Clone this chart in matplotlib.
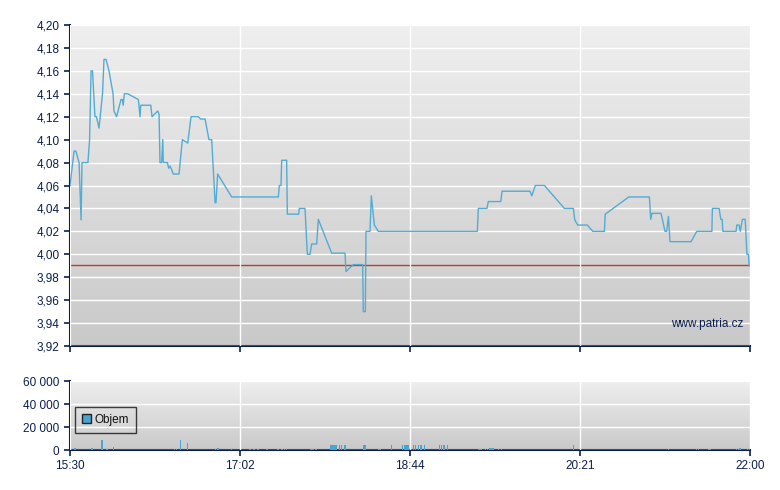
import numpy as np
import matplotlib
matplotlib.use("Agg")
import matplotlib.pyplot as plt
from matplotlib.patches import Patch

plt.rcParams['font.family'] = ['Liberation Sans', 'DejaVu Sans']

# x axis labels (the axis is evenly spaced between these labels)
tick_labels = ["15:30", "17:02", "18:44", "20:21", "22:00"]
tick_minutes = [0, 92, 194, 291, 390]   # minutes after 15:30

# price line: minutes after 15:30, price
price_min = [0.0, 2.2, 3.2, 4.9, 6.0, 6.5, 9.7, 10.6, 11.4, 12.2, 13.5, 14.3, 15.7, 17.6,
             18.4, 19.5, 21.1, 23.3, 23.8, 25.2, 27.6, 28.3, 28.8, 29.4, 31.2, 37.0, 37.9,
             38.3, 43.7, 44.4, 45.6, 47.5, 48.2, 48.7, 49.6, 50.2, 50.5, 52.7, 53.4, 54.1,
             54.7, 55.9, 59.0, 60.8, 63.7, 65.5, 69.4, 70.7, 73.1, 75.2, 76.7, 78.5, 79.0,
             79.9, 87.5, 115.0, 115.6, 116.6, 117.0, 120.0, 120.4, 127.2, 127.6, 131.0,
             132.4, 134.0, 135.0, 138.0, 139.0, 147.0, 155.0, 155.6, 160.0, 165.6, 166.0,
             167.2, 167.6, 170.0, 170.8, 172.6, 175.0, 232.4, 233.0, 237.9, 238.7, 245.8,
             246.5, 262.5, 263.5, 265.5, 270.7, 282.1, 287.2, 288.0, 289.7, 295.3, 298.4,
             305.2, 305.7, 319.4, 331.4, 332.2, 332.9, 338.2, 340.5, 341.5, 342.5, 343.4,
             355.7, 359.0, 367.8, 368.1, 372.0, 373.0, 373.8, 374.2, 381.9, 382.3, 383.7,
             384.3, 385.6, 387.2, 388.2, 389.1, 389.5, 390.0]
price = [4.06, 4.09, 4.09, 4.08, 4.03, 4.08, 4.08, 4.10, 4.16, 4.16, 4.12, 4.12, 4.11, 4.14,
         4.17, 4.17, 4.16, 4.14, 4.125, 4.12, 4.135, 4.135, 4.13, 4.14, 4.14, 4.135, 4.12,
         4.13, 4.13, 4.12, 4.122, 4.125, 4.122, 4.08, 4.08, 4.10, 4.08, 4.08, 4.075, 4.077,
         4.075, 4.07, 4.07, 4.10, 4.097, 4.12, 4.12, 4.118, 4.118, 4.10, 4.10, 4.045, 4.045,
         4.07, 4.05, 4.05, 4.06, 4.06, 4.082, 4.082, 4.035, 4.035, 4.04, 4.04,
         4.00, 4.00, 4.009, 4.009, 4.0305, 4.001, 4.001, 3.985, 3.991, 3.991, 3.95,
         3.95, 4.02, 4.02, 4.051, 4.0255, 4.02, 4.02, 4.04, 4.04, 4.046, 4.046,
         4.055, 4.055, 4.051, 4.06, 4.06, 4.04, 4.04, 4.030, 4.0255, 4.0255, 4.02,
         4.02, 4.035, 4.05, 4.05, 4.0305, 4.0357, 4.0357, 4.02, 4.02, 4.033, 4.011,
         4.011, 4.02, 4.02, 4.04, 4.04, 4.0305, 4.0305, 4.02, 4.02, 4.0255, 4.0255,
         4.02, 4.0305, 4.0305, 4.00, 4.00, 3.99, 3.99]
prev_close = 3.991

# volume bars: minutes after 15:30, shares
vol_min = [2.7, 11.9, 17.3, 20.0, 23.4, 56.4, 57.7, 59.7, 63.5, 78.6, 80.1, 87.3, 98.0, 100.4,
           102.8, 108.2, 114.8, 117.2, 118.7, 119.9, 134.6, 135.8, 137.6, 146.6, 147.2, 147.8,
           148.4, 149.0, 149.6, 151.6, 153.0, 155.0, 166.0, 166.6, 167.2, 175.1, 176.0, 183.0,
           189.4, 191.0, 191.6, 192.2, 193.0, 195.9, 197.3, 198.7, 200.3, 202.2, 210.7, 212.1,
           213.4, 215.3, 233.0, 233.9, 234.9, 237.1, 238.2, 239.7, 240.5, 241.4, 244.4, 246.0,
           287.2, 342.4, 359.0, 359.9, 365.8, 366.7, 382.3, 383.2, 384.2, 388.7, 389.6]
volume = [2000, 1800, 8700, 1000, 2600, 800, 800, 8700, 6000, 800, 1700, 800, 800, 800,
          800, 800, 800, 800, 800, 800, 800, 800, 800, 4300, 4300, 4300,
          4300, 4300, 4300, 4300, 4300, 4300, 4300, 4300, 4300, 800, 800, 4300,
          4300, 4300, 4300, 4300, 4300, 4300, 4300, 4300, 4300, 4300, 4300, 4300,
          4300, 4300, 900, 900, 900, 1200, 1200, 2000, 2000, 2000, 1200, 1200,
          4300, 600, 800, 800, 800, 800, 1000, 1200, 1500, 800, 800]

navy = '#0b1f4f'
line_blue = '#52acd4'
FS = 8.5


def to_pos(m):
    return np.interp(m, tick_minutes, np.arange(len(tick_minutes)))


def fmt_price(v):
    return f"{v:.2f}".replace('.', ',')


def fmt_vol(v):
    return f"{v:,.0f}".replace(',', ' ')


def style_axes(ax):
    grad = np.linspace(0, 1, 256).reshape(-1, 1)
    ax.imshow(grad, cmap=matplotlib.colors.LinearSegmentedColormap.from_list(
        'bg', ['#efefef', '#c9c9c9']), aspect='auto', extent=(0, 1, 0, 1),
        transform=ax.transAxes, zorder=0)
    for s in ('top', 'right'):
        ax.spines[s].set_visible(False)
    for s in ('left', 'bottom'):
        ax.spines[s].set_color(navy)
        ax.spines[s].set_linewidth(1.5)
    ax.tick_params(colors=navy, labelsize=FS, width=1.2, length=4, direction='out')
    ax.set_xlim(0, len(tick_labels) - 1)
    ax.set_xticks(range(len(tick_labels)))
    ax.grid(True, color='white', lw=1, zorder=1)
    ax.set_axisbelow(False)


fig = plt.figure(figsize=(7.8, 4.9), dpi=100)
ax = fig.add_axes([70 / 780, 144 / 490, 680 / 780, 321 / 490])
axv = fig.add_axes([70 / 780, 40 / 490, 680 / 780, 69 / 490])

# price panel
style_axes(ax)
yt = np.round(np.arange(3.92, 4.201, 0.02), 2)
ax.set_ylim(3.92, 4.20)
ax.set_yticks(yt)
ax.set_yticklabels([fmt_price(v) for v in yt])
ax.set_xticklabels([])
ax.axhline(prev_close, color='#c0392b', lw=1, zorder=2)
ax.plot(to_pos(price_min), price, color=line_blue, lw=1.0, zorder=3)
ax.text(0.99, 0.07, 'www.patria.cz', transform=ax.transAxes, ha='right', va='center',
        fontsize=FS, color=navy, zorder=4)

# volume panel
style_axes(axv)
vt = [0, 20000, 40000, 60000]
axv.set_ylim(0, 60000)
axv.set_yticks(vt)
axv.set_yticklabels([fmt_vol(v) for v in vt])
axv.set_xticklabels(tick_labels)
axv.bar(to_pos(vol_min), volume, width=0.007, color='#46a5d3', zorder=3)
leg = axv.legend(handles=[Patch(facecolor='#46a5d3', edgecolor='#222222', label='Objem')],
                 loc='lower left', bbox_to_anchor=(0.007, 0.25), borderaxespad=0,
                 fontsize=FS, frameon=True, fancybox=False, handlelength=0.75,
                 handleheight=0.75, handletextpad=0.35, borderpad=0.6,
                 labelcolor='#111111')
leg.get_frame().set_edgecolor('#111111')
leg.get_frame().set_facecolor('none')
leg.get_frame().set_linewidth(1)

fig.savefig('out.png', dpi=100)
